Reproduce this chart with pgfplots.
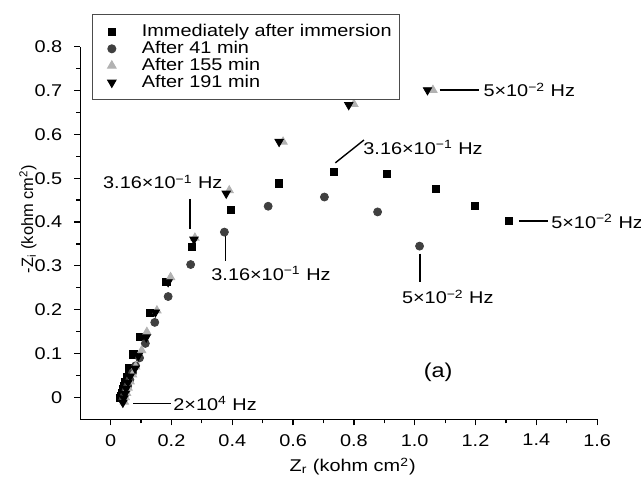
\documentclass[border=0pt]{standalone}
\usepackage{fontspec}
\setmainfont{Liberation Sans}[FakeStretch=1.17]
\newfontfamily\plainfont{Liberation Sans}
\usepackage{pgfplots}
\pgfplotsset{compat=1.18}

\pgfplotstableread{
x y
0.031 -0.002
0.034 0.004
0.037 0.010
0.040 0.018
0.044 0.027
0.048 0.036
0.053 0.047
0.060 0.066
0.075 0.098
0.095 0.137
0.128 0.192
0.183 0.263
0.266 0.344
0.396 0.428
0.554 0.488
0.733 0.514
0.908 0.510
1.069 0.476
1.199 0.436
1.310 0.402
}\tZero

\pgfplotstableread{
x y
0.040 -0.006
0.045 0.004
0.050 0.014
0.056 0.026
0.063 0.040
0.072 0.056
0.082 0.072
0.095 0.090
0.114 0.123
0.145 0.171
0.189 0.230
0.263 0.303
0.374 0.377
0.518 0.436
0.703 0.457
0.878 0.423
1.016 0.345
}\tFortyOne

\pgfplotstableread{
x y
0.045 -0.010
0.048 0.000
0.052 0.010
0.057 0.022
0.064 0.036
0.072 0.052
0.082 0.070
0.102 0.107
0.119 0.149
0.152 0.198
0.197 0.274
0.277 0.364
0.390 0.472
0.567 0.583
0.800 0.669
1.060 0.701
}\tOneFiftyFive

\pgfplotstableread{
x y
0.040 -0.012
0.043 -0.002
0.047 0.008
0.051 0.020
0.057 0.034
0.064 0.048
0.080 0.066
0.091 0.095
0.117 0.137
0.147 0.194
0.189 0.263
0.274 0.360
0.380 0.465
0.554 0.583
0.783 0.667
1.042 0.701
}\tOneNinetyOne

\definecolor{darkgr}{gray}{0.25}
\definecolor{lightgr}{gray}{0.70}

\begin{document}
\fontsize{8.5}{10}\selectfont
\begin{tikzpicture}
\begin{axis}[
    scale only axis,
    width=258.4pt, height=186.3pt,
    xmin=-0.1, xmax=1.6, ymin=-0.05, ymax=0.8,
    axis x line*=bottom, axis y line*=left,
    axis line style={line width=0.7pt},
    every tick/.style={black, line width=0.6pt},
    tick align=outside,
    major tick length=3pt, minor tick length=2pt,
    xtick={0,0.2,0.4,0.6,0.8,1.0,1.2,1.4,1.6},
    xticklabels={0,0.2,0.4,0.6,0.8,1.0,1.2,1.4,1.6},
    ytick={0,0.1,0.2,0.3,0.4,0.5,0.6,0.7,0.8},
    yticklabels={0,0.1,0.2,0.3,0.4,0.5,0.6,0.7,0.8},
    yticklabel style={inner xsep=5.8pt},
    xticklabel style={inner ysep=4.3pt},
    minor x tick num=1, minor y tick num=1,
    xlabel={Z\textsubscript{r} (kohm cm\textsuperscript{2})},
    xlabel style={at={(axis description cs:0.527,-0.127)}, anchor=center},
    legend style={at={(axis description cs:0.0233,1.0877)}, anchor=north west,
      draw=gray!60!black, line width=0.5pt, row sep=-3pt,
      inner xsep=2pt, inner ysep=3pt,
      cells={anchor=west}},
    legend image code/.code={%
      \path[draw=none] (-7.5pt,0) -- (13pt,0);
      \draw[#1] plot coordinates {(0pt,0pt)};},
    clip=false,
]
\addplot[only marks, mark=square*, mark size=1.8pt, black] table {\tZero};
\addplot[only marks, mark=*, mark size=2pt, darkgr] table {\tFortyOne};
\addplot[only marks, mark=triangle*, mark size=2.4pt, lightgr] table {\tOneFiftyFive};
\addplot[only marks, mark=triangle*, mark size=2.4pt, black, mark options={rotate=180}] table {\tOneNinetyOne};
\legend{Immediately after immersion, After 41 min, After 155 min, After 191 min}

\node[rotate=90, inner sep=0pt, font=\plainfont\fontsize{8.2}{10}\selectfont]
  at (axis cs:-0.272,0.407) {-Z\textsubscript{i} (kohm cm\textsuperscript{2})};

\draw[line width=0.7pt] (axis cs:1.082,0.701) -- (axis cs:1.210,0.701);
\node[anchor=west, inner sep=0pt] at (axis cs:1.225,0.701) {5×10\textsuperscript{−2} Hz};
\draw[line width=0.7pt] (axis cs:0.739,0.535) -- (axis cs:0.833,0.587);
\node[anchor=west, inner sep=0pt] at (axis cs:0.830,0.570) {3.16×10\textsuperscript{−1} Hz};
\draw[line width=0.7pt] (axis cs:1.343,0.402) -- (axis cs:1.440,0.402);
\node[anchor=west, inner sep=0pt] at (axis cs:1.448,0.402) {5×10\textsuperscript{−2} Hz};
\draw[line width=0.7pt] (axis cs:1.018,0.328) -- (axis cs:1.018,0.263);
\node[anchor=west, inner sep=0pt] at (axis cs:0.957,0.229) {5×10\textsuperscript{−2} Hz};
\node[anchor=west, inner sep=0pt] at (axis cs:-0.026,0.491) {3.16×10\textsuperscript{−1} Hz};
\draw[line width=0.7pt] (axis cs:0.261,0.453) -- (axis cs:0.261,0.385);
\draw[line width=0.7pt] (axis cs:0.377,0.374) -- (axis cs:0.377,0.312);
\node[anchor=west, inner sep=0pt] at (axis cs:0.330,0.282) {3.16×10\textsuperscript{−1} Hz};
\draw[line width=0.7pt] (axis cs:0.075,-0.014) -- (axis cs:0.197,-0.014);
\node[anchor=west, inner sep=0pt] at (axis cs:0.205,-0.014) {2×10\textsuperscript{4} Hz};
\node[font=\fontsize{10}{12}\selectfont] at (axis cs:1.077,0.057) {(a)};

\coordinate (bbA) at (axis cs:-0.3641,0.9065);
\coordinate (bbB) at (axis cs:1.7444,-0.1862);
\end{axis}
\pgfresetboundingbox
\path[use as bounding box] (bbA) rectangle (bbB);
\end{tikzpicture}
\end{document}
